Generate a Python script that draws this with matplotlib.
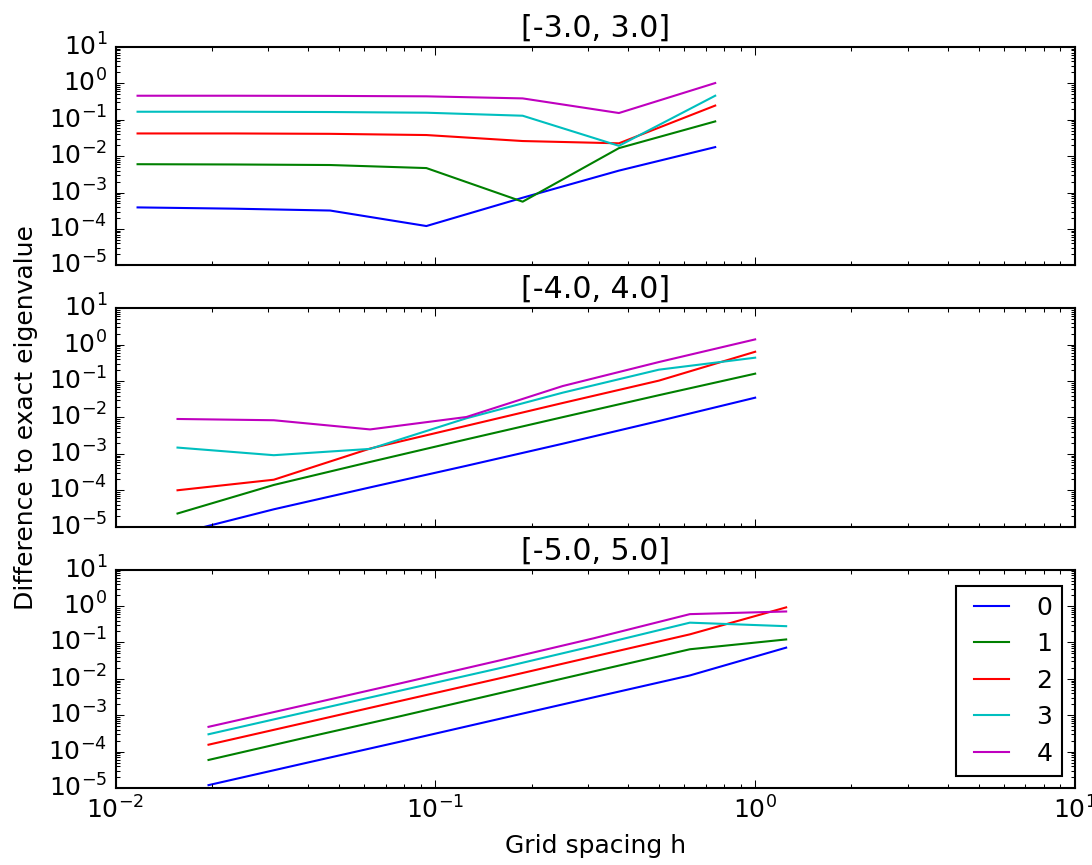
import matplotlib
matplotlib.use("Agg")
import matplotlib.pyplot as plt

# grid spacings for the three intervals (L / N, N = 512 ... 8)
h_3 = [0.01171875, 0.0234375, 0.046875, 0.09375, 0.1875, 0.375, 0.75]
h_4 = [0.015625, 0.03125, 0.0625, 0.125, 0.25, 0.5, 1.0]
h_5 = [0.01953125, 0.0390625, 0.078125, 0.15625, 0.3125, 0.625, 1.25]

# errors of eigenvalues 0..4, interval [-3, 3]
err_3 = [
    [3.9e-4, 3.6e-4, 3.2e-4, 1.2e-4, 7.2e-4, 4.0e-3, 1.77e-2],
    [6.0e-3, 5.9e-3, 5.7e-3, 4.7e-3, 5.6e-4, 1.66e-2, 9.0e-2],
    [4.2e-2, 4.2e-2, 4.1e-2, 3.8e-2, 2.6e-2, 2.25e-2, 2.45e-1],
    [1.66e-1, 1.66e-1, 1.63e-1, 1.56e-1, 1.29e-1, 1.92e-2, 4.57e-1],
    [4.57e-1, 4.57e-1, 4.52e-1, 4.4e-1, 3.86e-1, 1.53e-1, 1.02],
]

# interval [-4, 4]
err_4 = [
    [6.4e-6, 3.0e-5, 1.2e-4, 4.7e-4, 1.9e-3, 8.0e-3, 3.5e-2],
    [2.3e-5, 1.4e-4, 6.0e-4, 2.5e-3, 1.02e-2, 4.1e-2, 1.6e-1],
    [1.0e-4, 1.95e-4, 1.4e-3, 5.9e-3, 2.5e-2, 1.03e-1, 6.4e-1],
    [1.49e-3, 9.2e-4, 1.37e-3, 9.5e-3, 4.8e-2, 2.06e-1, 4.4e-1],
    [9.1e-3, 8.4e-3, 4.7e-3, 1.03e-2, 7.3e-2, 3.34e-1, 1.40],
]

# interval [-5, 5]
err_5 = [
    [1.2e-5, 4.8e-5, 1.9e-4, 7.7e-4, 3.1e-3, 1.24e-2, 7.2e-2],
    [5.9e-5, 2.4e-4, 9.5e-4, 3.9e-3, 1.6e-2, 6.5e-2, 1.21e-1],
    [1.55e-4, 6.2e-4, 2.5e-3, 1.0e-2, 4.1e-2, 1.67e-1, 9.2e-1],
    [3.0e-4, 1.2e-3, 4.8e-3, 1.9e-2, 8.0e-2, 3.5e-1, 2.8e-1],
    [4.8e-4, 1.9e-3, 7.6e-3, 3.1e-2, 1.3e-1, 6.0e-1, 7.1e-1],
]

titles = ["[-3.0, 3.0]", "[-4.0, 4.0]", "[-5.0, 5.0]"]
labels = ["0", "1", "2", "3", "4"]
colors = ["b", "g", "r", "c", "m"]

plt.style.use("classic")
plt.rcParams["axes.unicode_minus"] = False

fig, axes = plt.subplots(3, 1, sharex=True, figsize=(7.28, 5.7667), dpi=150)
fig.patch.set_facecolor("white")
fig.subplots_adjust(left=0.1058, right=0.9844, top=0.9457, bottom=0.089, hspace=0.197)

for ax, h, err, title in zip(axes, [h_3, h_4, h_5], [err_3, err_4, err_5], titles):
    for e, lab, col in zip(err, labels, colors):
        ax.loglog(h, e, color=col, label=lab)
    ax.set_title(title)
    ax.set_xlim(1e-2, 1e1)
    ax.set_ylim(1e-5, 1e1)
    ax.set_yticks([1e-5, 1e-4, 1e-3, 1e-2, 1e-1, 1e0, 1e1])

axes[1].set_ylabel("Difference to exact eigenvalue")
axes[2].set_xlabel("Grid spacing h")
axes[2].legend(loc="lower right", fontsize="medium")

fig.savefig("out.png", dpi=150, facecolor="white")
